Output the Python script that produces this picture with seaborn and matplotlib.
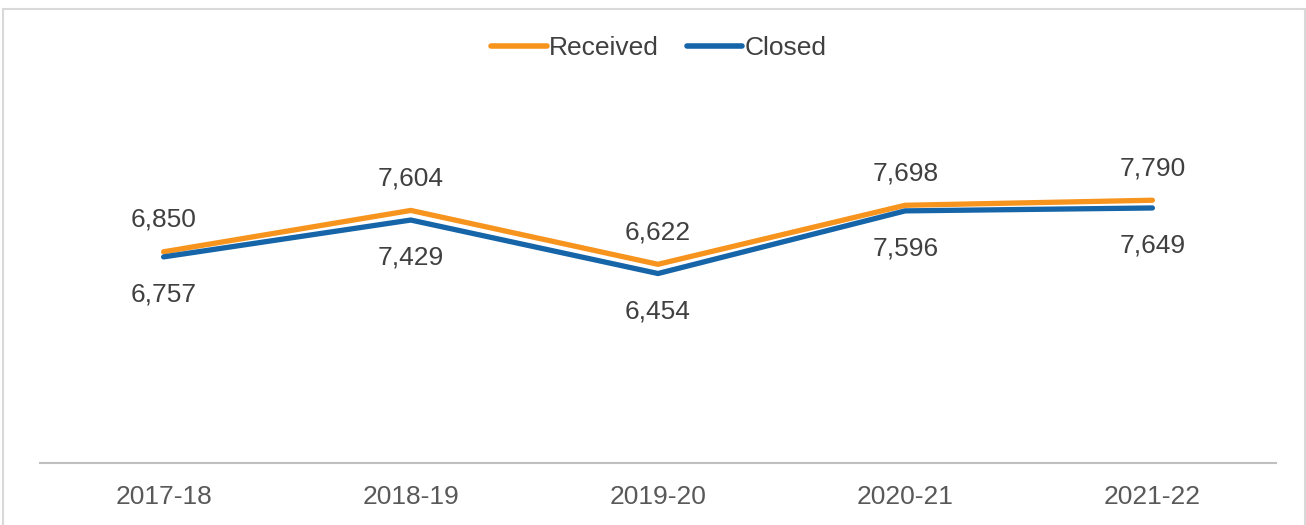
import matplotlib
matplotlib.use("Agg")
import matplotlib.pyplot as plt
import seaborn as sns
import pandas as pd
from matplotlib.patches import Rectangle

years = ["2017-18", "2018-19", "2019-20", "2020-21", "2021-22"]
received = [6850, 7604, 6622, 7698, 7790]
closed = [6757, 7429, 6454, 7596, 7649]

sns.set_style("white")
plt.rcParams['font.family'] = ['Liberation Sans', 'DejaVu Sans']

df = pd.DataFrame({
    "Year": years * 2,
    "Value": received + closed,
    "Series": ["Received"] * len(years) + ["Closed"] * len(years),
})
df["x"] = list(range(len(years))) * 2

FS = 19

fig = plt.figure(figsize=(13.06, 5.25), dpi=100)
ax = fig.add_axes([40/1306, 1 - 463/525, (1276-40)/1306, 384/525])

palette = {"Received": "#F7941D", "Closed": "#1565A8"}
sns.lineplot(data=df, x="x", y="Value", hue="Series", palette=palette,
             linewidth=3.8, ax=ax, legend=True, sort=False)

ax.set_xlim(-0.5, len(years) - 0.5)
ax.set_ylim(3000, 10000)
ax.set_xticks(range(len(years)))
ax.set_xticklabels(years, fontsize=FS, color="#595959")
ax.set_yticks([])
ax.set_xlabel("")
ax.set_ylabel("")
ax.tick_params(axis="x", length=0, pad=15.5)
for s in ["top", "right", "left"]:
    ax.spines[s].set_visible(False)
ax.spines["bottom"].set_color("#BFBFBF")
ax.spines["bottom"].set_linewidth(1.5)

for i, (r, c) in enumerate(zip(received, closed)):
    ax.annotate(f"{r:,}", (i, r), xytext=(0, 23), textcoords="offset points",
                ha="center", va="center", fontsize=FS, color="#404040")
    ax.annotate(f"{c:,}", (i, c), xytext=(0, -27), textcoords="offset points",
                ha="center", va="center", fontsize=FS, color="#404040")

leg = ax.legend(loc="center", bbox_to_anchor=(659/1306, 1 - 48/525),
                bbox_transform=fig.transFigure, ncol=2, frameon=False,
                fontsize=FS, handlelength=2.1, handletextpad=0.1,
                columnspacing=1.05, borderpad=0, borderaxespad=0)
for t in leg.get_texts():
    t.set_color("#404040")
for l in leg.get_lines():
    l.set_linewidth(4)

fig.patches.append(Rectangle((3/1306, -0.02), 1 - 4/1306, 1 - 9/525 + 0.02,
                             transform=fig.transFigure, fill=False,
                             edgecolor="#D9D9D9", linewidth=1.5))

fig.savefig("out.png", dpi=100)
